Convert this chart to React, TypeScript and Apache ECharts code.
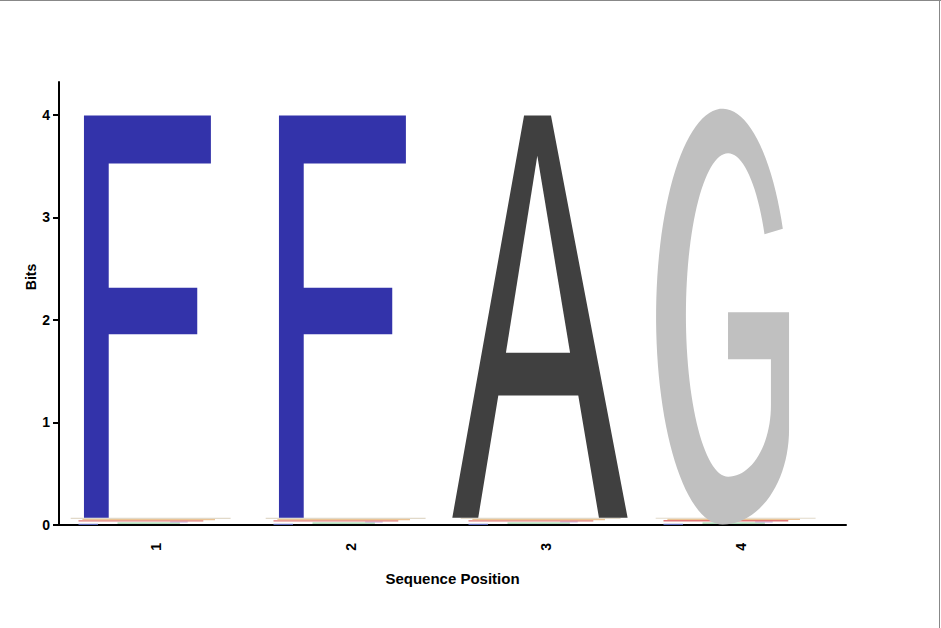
import React, { useEffect, useRef } from "react";
import * as echarts from "echarts";

// ---- data ----
const positions = ["1", "2", "3", "4"];
const mainLetters = ["F", "F", "A", "G"];
const mainBits = [3.922, 3.922, 3.922, 3.922];
// minor residues, stacked bottom-up under the main letter
const minorLetters = ["Y", "S", "W", "K", "E", "T"];
const minorBitsPos1 = [0.012, 0.012, 0.01, 0.013, 0.012, 0.012];
const minorBitsPos2 = [0.012, 0.012, 0.01, 0.013, 0.012, 0.012];
const minorBitsPos3 = [0.012, 0.013, 0.01, 0.012, 0.012, 0.012];
const minorBitsPos4 = [0.012, 0.012, 0.011, 0.013, 0.012, 0.011];
const minorBits = [minorBitsPos1, minorBitsPos2, minorBitsPos3, minorBitsPos4];
const yTicks = [0, 1, 2, 3, 4];

// ---- styles ----
const letterColors: Record<string, string> = {
  F: "#3333AA",
  A: "#404040",
  G: "#C0C0C0",
  Y: "#6070CC",
  S: "#88CC99",
  W: "#C0A0E0",
  K: "#DD6060",
  E: "#E8B880",
  T: "#DCD2C0",
};

function arc(cx: number, cy: number, rx: number, ry: number, t0: number, t1: number, n: number) {
  const pts: number[][] = [];
  for (let i = 0; i <= n; i++) {
    const t = ((t0 + ((t1 - t0) * i) / n) * Math.PI) / 180;
    pts.push([cx + rx * Math.cos(t), cy - ry * Math.sin(t)]);
  }
  return pts;
}

const glyphF = [
  [0.128, 0], [0.779, 0], [0.779, 0.119], [0.255, 0.119], [0.255, 0.428],
  [0.709, 0.428], [0.709, 0.544], [0.255, 0.544], [0.255, 1], [0.128, 1],
];
const glyphAOuter = [
  [0.385, 0], [0.523, 0], [0.916, 1], [0.769, 1], [0.663, 0.696],
  [0.253, 0.696], [0.150, 1], [0.017, 1],
];
const glyphAInner = [[0.453, 0.0998], [0.621, 0.59], [0.292, 0.59]];
const glyphG = [
  ...arc(0.403, 0.5, 0.341, 0.517, 25, 270, 80),
  ...arc(0.403, 0.78, 0.341, 0.237, 270, 360, 24),
  [0.744, 0.489], [0.431, 0.489], [0.431, 0.606], [0.651, 0.606],
  ...arc(0.431, 0.72, 0.22, 0.178, 0, -90, 24),
  ...arc(0.431, 0.496, 0.216, 0.402, -90, -330, 80),
];
const smearExtents: Record<string, number[]> = {
  Y: [0.1, 0.2],
  S: [0.3, 0.62],
  W: [0.57, 0.66],
  K: [0.1, 0.74],
  E: [0.12, 0.8],
  T: [0.06, 0.88],
};

type Item = { x: number; y0: number; y1: number; letter: string };
const items: Item[] = [];
positions.forEach((_, i) => {
  let base = 0;
  minorLetters.forEach((l, j) => {
    const b = minorBits[i][j];
    items.push({ x: i + 1, y0: base, y1: base + b, letter: l });
    base += b;
  });
});
positions.forEach((_, i) => {
  let base = minorBits[i].reduce((a, b) => a + b, 0);
  items.push({ x: i + 1, y0: base, y1: base + mainBits[i], letter: mainLetters[i] });
});

const FONT = "Arial, 'Liberation Sans', sans-serif";

export default function App() {
  const ref = useRef<HTMLDivElement>(null);
  useEffect(() => {
    if (!ref.current) return;
    const chart = echarts.init(ref.current, null, { renderer: "svg" });
    const renderItem = (params: any, api: any) => {
      const d = items[params.dataIndex];
      const b = api.coord([d.x, d.y0]);
      const t = api.coord([d.x, d.y1]);
      const colW = api.size([1, 0])[0];
      const left = b[0] - colW / 2;
      const top = t[1];
      const h = b[1] - t[1];
      const fill = letterColors[d.letter];
      const map = (p: number[]) => [left + p[0] * colW, top + p[1] * h];
      if (d.letter === "F") {
        return { type: "polygon", shape: { points: glyphF.map(map) }, style: { fill } };
      }
      if (d.letter === "A") {
        return {
          type: "group",
          children: [
            { type: "polygon", shape: { points: glyphAOuter.map(map) }, style: { fill } },
            { type: "polygon", shape: { points: glyphAInner.map(map) }, style: { fill: "#ffffff" } },
          ],
        };
      }
      if (d.letter === "G") {
        return { type: "polygon", shape: { points: glyphG.map(map) }, style: { fill } };
      }
      const ext = smearExtents[d.letter] || [0.1, 0.9];
      return {
        type: "rect",
        shape: { x: left + ext[0] * colW, y: top, width: (ext[1] - ext[0]) * colW, height: Math.max(h, 1) },
        style: { fill, opacity: 0.85 },
      };
    };
    chart.setOption({
      animation: false,
      backgroundColor: "#ffffff",
      grid: { left: 59, right: 95, top: 82, bottom: 103, containLabel: false, outerBoundsMode: "none" },
      xAxis: {
        type: "value",
        min: 0.5,
        max: 4.536,
        name: "Sequence Position",
        nameLocation: "middle",
        nameGap: 46,
        nameTextStyle: { fontFamily: FONT, fontWeight: "bold", fontSize: 15, color: "#000" },
        axisLine: { show: true, lineStyle: { color: "#000", width: 2 } },
        axisTick: { show: false },
        splitLine: { show: false },
        axisLabel: {
          customValues: [1, 2, 3, 4],
          formatter: (v: number) => positions[Math.round(v) - 1] ?? "",
          rotate: 90,
          margin: 18,
          fontFamily: FONT,
          fontWeight: "bold",
          fontSize: 14,
          color: "#000",
        },
      },
      yAxis: {
        type: "value",
        min: 0,
        max: 4.32,
        interval: 1,
        axisLine: { show: true, lineStyle: { color: "#000", width: 2 } },
        axisTick: { show: true, customValues: yTicks, length: 6, lineStyle: { color: "#000", width: 2 } },
        splitLine: { show: false },
        axisLabel: {
          customValues: yTicks,
          margin: 9,
          fontFamily: FONT,
          fontWeight: "bold",
          fontSize: 14,
          color: "#000",
        },
      },
      graphic: [
        {
          type: "text",
          x: 31,
          y: 277,
          rotation: Math.PI / 2,
          style: {
            text: "Bits",
            fontFamily: FONT,
            fontWeight: "bold",
            fontSize: 14,
            fill: "#000",
            align: "center",
            verticalAlign: "middle",
          },
        },
        { type: "line", shape: { x1: 0, y1: 0.5, x2: 941, y2: 0.5 }, style: { stroke: "#888", lineWidth: 1 } },
        { type: "line", shape: { x1: 939.5, y1: 0, x2: 939.5, y2: 628 }, style: { stroke: "#888", lineWidth: 1 } },
      ],
      series: [
        {
          type: "custom",
          renderItem,
          clip: false,
          encode: { x: 0, y: [1, 2] },
          data: items.map((d) => [d.x, d.y0, d.y1]),
        },
      ],
    });
    return () => chart.dispose();
  }, []);
  return (
    <div
      ref={ref}
      style={{ position: "fixed", left: 0, top: 0, width: 941, height: 628, background: "#fff" }}
    />
  );
}
